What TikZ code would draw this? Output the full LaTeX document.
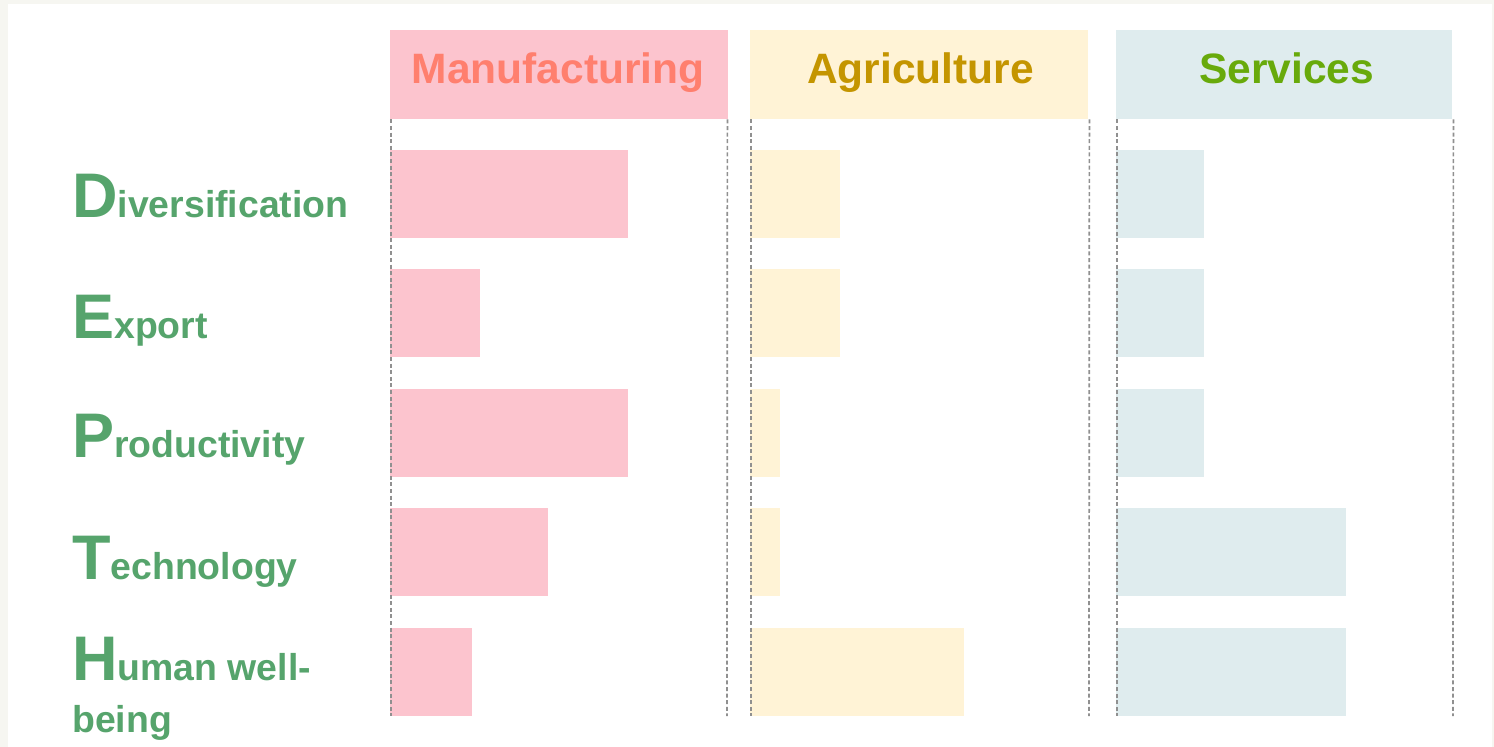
\documentclass[tikz,border=0pt]{standalone}
\usepackage{fontspec}
\setmainfont{Liberation Sans}
\definecolor{pageback}{HTML}{F6F6F1}
\definecolor{manfill}{HTML}{FCC4CE}
\definecolor{mantext}{HTML}{FF7F6E}
\definecolor{agrfill}{HTML}{FFF3D6}
\definecolor{agrtext}{HTML}{C49500}
\definecolor{serfill}{HTML}{DFECEE}
\definecolor{sertext}{HTML}{68AA0B}
\definecolor{labgreen}{HTML}{56A46C}
\definecolor{guide}{HTML}{909090}
\tikzset{
  hdrbox/.style={rectangle, inner sep=0pt, minimum width=338pt, minimum height=89pt, anchor=north west},
  hdrtxt/.style={inner sep=0pt, anchor=base, font=\fontsize{42.5}{42.5}\selectfont\bfseries},
  bar/.style={rectangle, inner sep=0pt, minimum height=88pt, anchor=north west},
  guideline/.style={draw=guide, line width=1.7pt, dash pattern=on 4pt off 2.6pt},
  rowlab/.style={inner sep=0pt, anchor=base west, text=labgreen, font=\fontsize{37.4}{37.4}\selectfont\bfseries},
}
\newcommand{\bigini}[1]{{\fontsize{63}{63}\selectfont #1}}
\begin{document}
\begin{tikzpicture}[x=1pt, y=-1pt]
\useasboundingbox (0,0) rectangle (1494,747);
\fill[pageback] (0,0) rectangle (1494,747);
\fill[white] (8,4) rectangle (1492,747);

% header boxes
\node[hdrbox, fill=manfill, minimum width=338pt] (manH) at (390,30) {};
\node[hdrbox, fill=agrfill, minimum width=338pt] (agrH) at (750,30) {};
\node[hdrbox, fill=serfill, minimum width=336pt] (serH) at (1116,30) {};
\node[hdrtxt, text=mantext] (manT) at (558,83) {Manufacturing};
\node[hdrtxt, text=agrtext] (agrT) at (920.5,83) {Agriculture};
\node[hdrtxt, text=sertext] (serT) at (1286.5,83) {Services};

% bars: manufacturing
\node[bar, fill=manfill, minimum width=238pt] (m1) at (390,150) {};
\node[bar, fill=manfill, minimum width=90pt]  (m2) at (390,269) {};
\node[bar, fill=manfill, minimum width=238pt] (m3) at (390,389) {};
\node[bar, fill=manfill, minimum width=158pt] (m4) at (390,508) {};
\node[bar, fill=manfill, minimum width=82pt]  (m5) at (390,628) {};
% agriculture
\node[bar, fill=agrfill, minimum width=90pt]  (a1) at (750,150) {};
\node[bar, fill=agrfill, minimum width=90pt]  (a2) at (750,269) {};
\node[bar, fill=agrfill, minimum width=30pt]  (a3) at (750,389) {};
\node[bar, fill=agrfill, minimum width=30pt]  (a4) at (750,508) {};
\node[bar, fill=agrfill, minimum width=214pt] (a5) at (750,628) {};
% services
\node[bar, fill=serfill, minimum width=88pt]  (s1) at (1116,150) {};
\node[bar, fill=serfill, minimum width=88pt]  (s2) at (1116,269) {};
\node[bar, fill=serfill, minimum width=88pt]  (s3) at (1116,389) {};
\node[bar, fill=serfill, minimum width=230pt] (s4) at (1116,508) {};
\node[bar, fill=serfill, minimum width=230pt] (s5) at (1116,628) {};

% dashed guides
\coordinate (g1b) at (391,716);
\coordinate (g2b) at (727,716);
\coordinate (g3b) at (751,716);
\coordinate (g4b) at (1089,716);
\coordinate (g5b) at (1117,716);
\coordinate (g6b) at (1453,716);
\draw[guideline] ([xshift=1pt]manH.south west) -- (g1b);
\draw[guideline] ([xshift=-1pt]manH.south east) -- (g2b);
\draw[guideline] ([xshift=1pt]agrH.south west) -- (g3b);
\draw[guideline] ([xshift=1pt]agrH.south east) -- (g4b);
\draw[guideline] ([xshift=1pt]serH.south west) -- (g5b);
\draw[guideline] ([xshift=1pt]serH.south east) -- (g6b);

% row labels
\node[rowlab] (lD) at (72,217) {\bigini{D}iversification};
\node[rowlab] (lE) at (72,338) {\bigini{E}xport};
\node[rowlab] (lP) at (72,457) {\bigini{P}roductivity};
\node[rowlab] (lT) at (72,579) {\bigini{T}echnology};
\node[rowlab] (lH) at (72,680) {\bigini{H}uman well-};
\node[rowlab] (lH2) at (72,732) {being};
\end{tikzpicture}
\end{document}
